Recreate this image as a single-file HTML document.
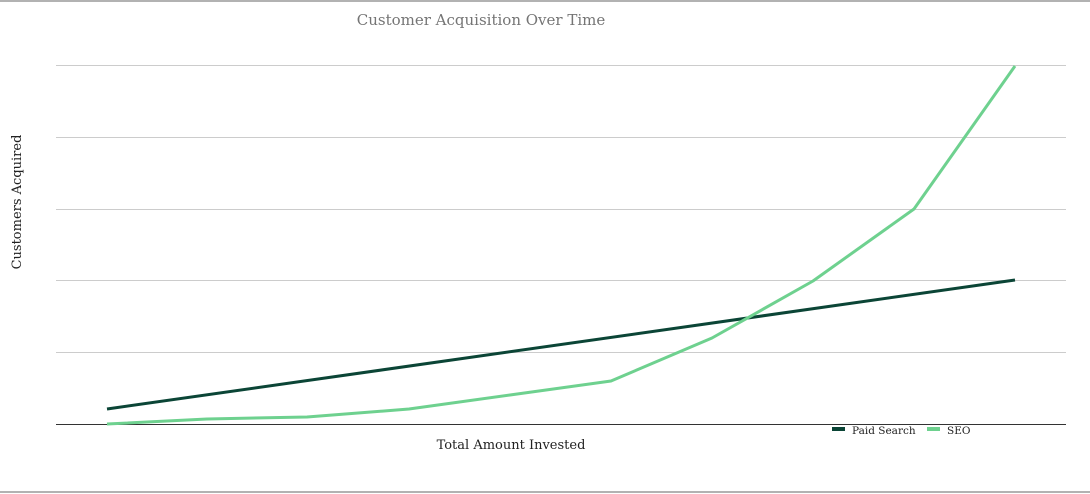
<!DOCTYPE html>
<html><head><style>body{margin:0;background:#fff}svg{display:block}</style></head><body>
<svg width="1090" height="494" xmlns="http://www.w3.org/2000/svg">
<line x1="0" y1="1" x2="1090" y2="1" stroke="#999" stroke-width="1.5"/>
<line x1="0" y1="492" x2="1090" y2="492" stroke="#999" stroke-width="1.5"/>
<text x="481" y="25" font-family="DejaVu Serif, serif" font-size="15" fill="#757575" text-anchor="middle">Customer Acquisition Over Time</text>
<g stroke="#ccc" stroke-width="1">
<line x1="56" y1="65.5" x2="1066" y2="65.5"/>
<line x1="56" y1="137.5" x2="1066" y2="137.5"/>
<line x1="56" y1="209.5" x2="1066" y2="209.5"/>
<line x1="56" y1="280.5" x2="1066" y2="280.5"/>
<line x1="56" y1="352.5" x2="1066" y2="352.5"/>
</g>
<line x1="56" y1="424.5" x2="1066" y2="424.5" stroke="#333" stroke-width="1"/>
<text transform="translate(21,202) rotate(-90)" font-family="DejaVu Serif, serif" font-size="13" fill="#222" text-anchor="middle">Customers Acquired</text>
<text x="511" y="449" font-family="DejaVu Serif, serif" font-size="13" fill="#222" text-anchor="middle">Total Amount Invested</text>
<polyline points="107,409 1015,280" fill="none" stroke="#0b4536" stroke-width="3"/>
<polyline points="107,424 207,419 307,417 409,409 510,395 611,381 712,338 813,281 914,209 1015,66" fill="none" stroke="#6ed18f" stroke-width="3" stroke-linejoin="round"/>
<rect x="832" y="427" width="13" height="4" fill="#0b4536"/>
<text x="852" y="434" font-family="DejaVu Serif, serif" font-size="10.5" fill="#222">Paid Search</text>
<rect x="927" y="427" width="13" height="4" fill="#6ed18f"/>
<text x="947" y="434" font-family="DejaVu Serif, serif" font-size="10.5" fill="#222">SEO</text>
</svg>
</body></html>
